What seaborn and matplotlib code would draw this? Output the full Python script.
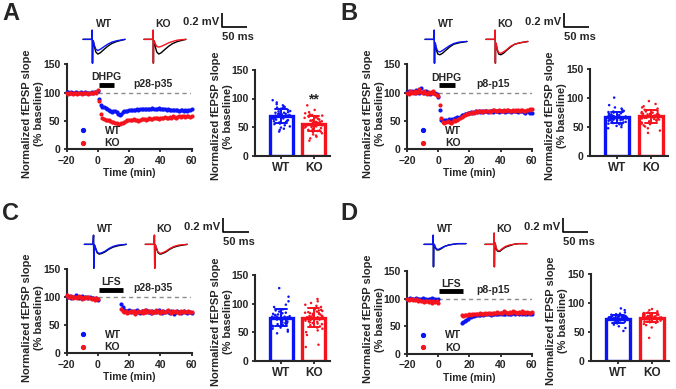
import matplotlib
matplotlib.use("Agg")
import matplotlib.pyplot as plt
from matplotlib.lines import Line2D
import seaborn as sns
import pandas as pd

sns.set_style("ticks")
plt.rcParams['font.family'] = ['Liberation Sans', 'DejaVu Sans']
plt.rcParams['font.weight'] = 'bold'
plt.rcParams['axes.labelweight'] = 'bold'

BLUE = '#0a14f5'
RED = '#f5141e'

# ---- time course data (% baseline), sampled every minute ----
t_full = list(range(-20, 61))
t_lfs = list(range(-20, 1)) + list(range(15, 61))

a_wt = [101, 102, 100, 101, 99, 100, 101, 100, 99, 101, 100, 100, 101, 100, 99, 100, 101, 100, 102, 101, 103,
        88, 78, 75, 74, 73, 72, 70, 67, 66, 67,
        68, 65, 62, 61, 63, 66, 67, 68, 67, 69,
        69, 70, 69, 70, 71, 70, 71, 72, 71, 72,
        71, 72, 71, 72, 73, 72, 71, 72, 73, 72,
        71, 72, 71, 70, 71, 70, 69, 70, 69, 70,
        69, 68, 69, 70, 68, 69, 68, 69, 70, 71]
a_ko = [99, 98, 100, 99, 97, 100, 99, 98, 100, 99, 98, 99, 100, 99, 98, 100, 99, 100, 101, 100, 105,
        85, 62, 55, 53, 52, 51, 52, 50, 49, 48,
        47, 46, 45, 44, 46, 47, 48, 50, 51, 52,
        51, 52, 53, 52, 51, 50, 52, 53, 54, 53,
        52, 53, 55, 54, 53, 55, 56, 55, 54, 55,
        56, 55, 57, 56, 55, 57, 56, 58, 57, 56,
        57, 58, 57, 59, 58, 57, 59, 58, 57, 58]

b_wt = [102, 104, 100, 103, 101, 99, 105, 103, 100, 108, 102, 99, 104, 101, 100, 98, 102, 100, 99, 97, 93,
        70, 52, 50, 51, 52, 50, 53, 52, 54, 53,
        55, 57, 56, 58, 60, 61, 62, 63, 64, 65,
        66, 65, 66, 67, 66, 67, 66, 67, 66, 68,
        67, 66, 68, 67, 66, 67, 68, 67, 66, 67,
        68, 67, 66, 67, 68, 67, 66, 67, 68, 67,
        66, 67, 68, 67, 66, 65, 67, 66, 65, 64]
b_ko = [100, 98, 103, 101, 99, 104, 100, 102, 106, 101, 99, 103, 100, 98, 101, 99, 100, 103, 98, 96, 95,
        78, 55, 48, 47, 49, 50, 48, 47, 49, 51,
        50, 52, 54, 55, 57, 59, 60, 62, 63, 64,
        65, 66, 65, 67, 66, 68, 67, 66, 68, 67,
        68, 67, 66, 68, 69, 70, 68, 67, 69, 68,
        67, 69, 68, 70, 69, 68, 67, 69, 68, 70,
        69, 68, 70, 69, 67, 68, 70, 69, 72, 71]

c_wt = [102, 100, 103, 99, 101, 100, 104, 101, 99, 100, 102, 98, 100, 101, 99, 100, 98, 99, 97, 99, 96,
        88, 82, 78, 76, 75, 77, 74, 76, 73, 75,
        77, 74, 72, 76, 75, 73, 78, 74, 75, 72,
        76, 74, 73, 75, 77, 74, 72, 75, 73, 76,
        74, 72, 75, 73, 71, 74, 76, 73, 72, 74,
        75, 73, 72, 74, 73, 72]
c_ko = [104, 101, 100, 102, 98, 100, 101, 99, 103, 100, 97, 99, 101, 98, 100, 99, 97, 98, 96, 98, 97,
        80, 76, 73, 75, 72, 74, 76, 73, 75, 71,
        74, 76, 73, 75, 72, 77, 74, 76, 73, 75,
        72, 74, 77, 73, 75, 72, 76, 74, 73, 75,
        78, 74, 72, 76, 73, 75, 74, 72, 76, 73,
        75, 74, 73, 76, 74, 73]

d_wt = [100, 99, 101, 100, 99, 100, 101, 99, 100, 100, 101, 99, 100, 98, 100, 99, 101, 100, 99, 98, 100,
        56, 58, 60, 62, 64, 66, 67, 68, 69, 70,
        70, 71, 71, 72, 71, 72, 72, 73, 72, 71,
        72, 73, 72, 73, 72, 74, 73, 72, 73, 74,
        73, 72, 73, 74, 73, 74, 75, 73, 74, 73,
        74, 72, 73, 74, 73, 72]
d_ko = [100, 98, 99, 100, 97, 98, 99, 96, 97, 95, 96, 94, 95, 96, 94, 95, 93, 95, 94, 96, 92,
        70, 69, 70, 71, 70, 72, 71, 72, 73, 72,
        73, 72, 74, 73, 72, 74, 73, 75, 74, 73,
        74, 75, 74, 76, 75, 74, 75, 77, 76, 75,
        74, 76, 75, 77, 76, 75, 74, 76, 75, 77,
        76, 75, 76, 74, 75, 76]

# ---- individual slices (% baseline) for the bar graphs ----
a_wt_pts = [97, 93, 90, 88, 86, 85, 84, 83, 82, 81, 80, 79, 78, 77, 76, 75, 75, 74, 73, 72, 72, 71, 70, 70, 69,
            68, 68, 67, 66, 65, 65, 64, 63, 62, 61, 60, 59, 58, 57, 56, 55, 53, 51, 49, 47, 45, 42, 71, 73, 69]
a_ko_pts = [88, 80, 76, 74, 72, 71, 70, 69, 68, 67, 66, 65, 64, 63, 62, 61, 61, 60, 59, 58, 58, 57, 56, 56, 55,
            54, 54, 53, 52, 51, 51, 50, 49, 48, 47, 46, 45, 44, 43, 42, 41, 39, 37, 35, 33, 30, 26, 57, 59, 55]
b_wt_pts = [101, 88, 84, 82, 80, 78, 77, 76, 75, 74, 73, 72, 71, 70, 70, 69, 68, 68, 67, 67, 66, 66, 65, 65, 64,
            64, 63, 63, 62, 62, 61, 60, 59, 58, 57, 56, 55, 54, 52, 50, 48, 66, 67, 65, 68, 64, 66, 63, 69, 62]
b_ko_pts = [95, 90, 86, 84, 82, 80, 79, 78, 77, 76, 75, 74, 73, 72, 72, 71, 70, 70, 69, 69, 68, 68, 67, 67, 66,
            65, 65, 64, 63, 62, 61, 60, 58, 56, 55, 53, 51, 48, 44, 40, 70, 71, 69, 72, 68, 73, 67, 74, 66, 75]
c_wt_pts = [127, 112, 104, 98, 94, 90, 88, 86, 84, 83, 82, 81, 80, 79, 78, 77, 77, 76, 75, 75, 74, 74, 73, 72, 72,
            71, 70, 69, 68, 67, 66, 65, 64, 63, 62, 61, 60, 58, 56, 54, 51, 48, 76, 75, 73, 77, 74, 72, 78, 70]
c_ko_pts = [108, 104, 101, 98, 96, 94, 92, 90, 89, 88, 87, 86, 85, 84, 83, 82, 81, 80, 79, 78, 78, 77, 76, 76, 75,
            74, 73, 72, 71, 70, 69, 68, 67, 66, 65, 64, 62, 60, 58, 56, 53, 50, 45, 28, 24, 80, 82, 79, 84, 77]
d_wt_pts = [91, 88, 84, 82, 81, 80, 79, 78, 78, 77, 77, 76, 76, 75, 75, 75, 74, 74, 74, 73, 73, 73, 72, 72, 72,
            71, 71, 70, 70, 69, 68, 67, 66, 65, 63, 60, 57, 52, 74, 75, 73, 76, 74, 72, 75, 73, 77, 71, 74, 76]
d_ko_pts = [90, 88, 86, 84, 83, 82, 81, 80, 80, 79, 79, 78, 78, 77, 77, 76, 76, 76, 75, 75, 75, 74, 74, 74, 73,
            73, 72, 72, 71, 70, 69, 68, 67, 66, 64, 62, 58, 40, 76, 77, 75, 78, 74, 79, 73, 80, 76, 75, 77, 74]

# ---- example fEPSP traces (ms, mV): baseline (black) vs after treatment (colour) ----
t_trace = [0, 17, 18, 18.5, 19, 20, 22, 25, 29, 34, 40, 48, 56, 66, 82]
a_tr = {'wt_base': [0, 0, 0.13, -0.34, -0.03, -0.02, -0.10, -0.18, -0.21, -0.19, -0.15, -0.10, -0.06, -0.03, 0.0],
        'wt_post': [0, 0, 0.13, -0.34, -0.03, -0.02, -0.08, -0.14, -0.16, -0.14, -0.11, -0.07, -0.04, -0.02, 0.0],
        'ko_base': [0, 0, 0.13, -0.34, -0.03, -0.02, -0.10, -0.18, -0.21, -0.19, -0.15, -0.10, -0.06, -0.03, 0.0],
        'ko_post': [0, 0, 0.13, -0.34, -0.03, -0.02, -0.06, -0.10, -0.11, -0.10, -0.08, -0.05, -0.03, -0.01, 0.0]}
b_tr = {'wt_base': [0, 0, 0.13, -0.34, -0.05, -0.06, -0.15, -0.21, -0.22, -0.20, -0.16, -0.11, -0.07, -0.05, -0.03],
        'wt_post': [0, 0, 0.13, -0.34, -0.05, -0.05, -0.12, -0.17, -0.18, -0.16, -0.13, -0.09, -0.06, -0.04, -0.03],
        'ko_base': [0, 0, 0.13, -0.34, -0.05, -0.06, -0.15, -0.21, -0.22, -0.20, -0.16, -0.11, -0.07, -0.05, -0.03],
        'ko_post': [0, 0, 0.13, -0.34, -0.05, -0.06, -0.14, -0.19, -0.20, -0.18, -0.15, -0.10, -0.07, -0.05, -0.03]}
c_tr = {'wt_base': [0, 0, 0.13, -0.34, -0.02, -0.01, -0.06, -0.12, -0.14, -0.13, -0.11, -0.07, -0.04, -0.02, 0.0],
        'wt_post': [0, 0, 0.13, -0.34, -0.02, -0.01, -0.05, -0.11, -0.13, -0.12, -0.10, -0.06, -0.03, -0.01, 0.0],
        'ko_base': [0, 0, 0.13, -0.34, -0.02, -0.01, -0.06, -0.12, -0.14, -0.13, -0.11, -0.07, -0.04, -0.02, 0.0],
        'ko_post': [0, 0, 0.13, -0.34, -0.02, -0.01, -0.05, -0.11, -0.13, -0.12, -0.10, -0.06, -0.03, -0.01, 0.0]}
d_tr = {'wt_base': [0, 0, 0.13, -0.32, -0.02, 0.0, -0.05, -0.08, -0.08, -0.06, -0.03, -0.01, 0.0, 0.01, 0.01],
        'wt_post': [0, 0, 0.13, -0.32, -0.02, 0.0, -0.04, -0.07, -0.07, -0.05, -0.03, -0.01, 0.0, 0.01, 0.01],
        'ko_base': [0, 0, 0.16, -0.32, -0.03, 0.02, -0.07, -0.10, -0.10, -0.07, -0.04, -0.02, 0.0, 0.01, 0.01],
        'ko_post': [0, 0, 0.16, -0.32, -0.03, 0.02, -0.05, -0.09, -0.09, -0.06, -0.03, -0.01, 0.0, 0.01, 0.01]}

dhpg_span = [0.5, 10.5]
lfs_span = [0.5, 16]

W, H = 676, 389
fig = plt.figure(figsize=(W / 100, H / 100), dpi=100)


def px_axes(left, top, right, bottom):
    return fig.add_axes([left / W, 1 - bottom / H, (right - left) / W, (bottom - top) / H])


def style(ax):
    sns.despine(ax=ax)
    for s in ['left', 'bottom']:
        ax.spines[s].set_linewidth(1.5)
    ax.tick_params(width=1.3, length=2.5, pad=2, labelsize=7.5)
    for lab in ax.get_xticklabels() + ax.get_yticklabels():
        lab.set_fontweight('bold')


def draw_course(ax, t_wt, wt, t_ko, ko, drug, span, age):
    ax.axhline(100, xmin=0.25, xmax=1, color='0.55', ls=(0, (3, 2.5)), lw=1)
    sns.scatterplot(x=t_wt, y=wt, color=BLUE, s=9, linewidth=0, ax=ax, clip_on=False, zorder=3)
    sns.scatterplot(x=t_ko, y=ko, color=RED, s=9, linewidth=0, ax=ax, clip_on=False, zorder=3)
    ax.plot(span, [113, 113], color='k', lw=3.5, solid_capstyle='butt')
    ax.text(sum(span) / 2, 127, drug, ha='center', va='center', fontsize=7.5, fontweight='bold')
    ax.text(35, 116, age, ha='center', va='center', fontsize=7.5, fontweight='bold')
    ax.set_xlim(-20, 60)
    ax.set_ylim(0, 150)
    ax.set_xticks([-20, 0, 20, 40, 60])
    ax.set_yticks([0, 50, 100, 150])
    ax.set_xlabel('Time (min)', fontsize=7.5, labelpad=2)
    ax.set_ylabel('Normalized fEPSP slope\n(% baseline)', fontsize=8, linespacing=1.25)
    ax.yaxis.set_label_coords(-0.18, 0.42)
    handles = [Line2D([], [], marker='o', ls='', color=BLUE, ms=2.8),
               Line2D([], [], marker='o', ls='', color=RED, ms=2.8)]
    ax.legend(handles, ['WT', 'KO'], loc='lower left', bbox_to_anchor=(0.08, 0.0), frameon=False,
              borderaxespad=0, borderpad=0.1, handlelength=1.0, handletextpad=1.6, labelspacing=0.25,
              prop={'size': 7.5, 'weight': 'bold'})
    style(ax)


def draw_bars(ax, wt_pts, ko_pts, star=None):
    df = pd.DataFrame({'geno': ['WT'] * len(wt_pts) + ['KO'] * len(ko_pts),
                       'val': wt_pts + ko_pts})
    pal = {'WT': BLUE, 'KO': RED}
    sns.barplot(data=df, x='geno', y='val', hue='geno', palette=pal, fill=False, width=0.7,
                linewidth=2.4, errorbar='sd', capsize=0.35, err_kws={'linewidth': 1.4},
                legend=False, ax=ax)
    sns.stripplot(data=df, x='geno', y='val', hue='geno', palette=pal, size=1.8, jitter=0.28,
                  legend=False, ax=ax, zorder=2)
    if star:
        ax.text(1, 98, star, ha='center', va='center', fontsize=10, fontweight='bold')
    ax.set_xlim(-0.8, 1.5)
    ax.set_ylim(0, 150)
    ax.set_yticks([0, 50, 100, 150])
    ax.set_xlabel('')
    ax.set_ylabel('Normalized fEPSP slope\n(% baseline)', fontsize=8, linespacing=1.25)
    ax.yaxis.set_label_coords(-0.29, 0.46)
    style(ax)
    ax.tick_params(axis='x', labelsize=8.5)


def draw_traces(ax, tr):
    ko_shift = 119
    sns.lineplot(x=t_trace, y=tr['wt_base'], color='k', lw=1.0, estimator=None, ax=ax)
    sns.lineplot(x=t_trace, y=tr['wt_post'], color=BLUE, lw=1.0, estimator=None, ax=ax)
    sns.lineplot(x=[t + ko_shift for t in t_trace], y=tr['ko_base'], color='k', lw=1.0, estimator=None, ax=ax)
    sns.lineplot(x=[t + ko_shift for t in t_trace], y=tr['ko_post'], color=RED, lw=1.0, estimator=None, ax=ax)
    ax.text(41, 0.22, 'WT', ha='center', va='center', fontsize=7.5, fontweight='bold')
    ax.text(156, 0.22, 'KO', ha='center', va='center', fontsize=7.5, fontweight='bold')
    # scale bar 50 ms / 0.2 mV
    ax.plot([271, 271, 321], [0.371, 0.171, 0.171], color='k', lw=1.2, solid_capstyle='butt')
    ax.text(266, 0.25, '0.2 mV', ha='right', va='center', fontsize=8, fontweight='bold')
    ax.text(271, 0.03, '50 ms', ha='left', va='center', fontsize=8, fontweight='bold')
    ax.set_xlim(-5.9, 336)
    ax.set_ylim(-0.38, 0.45)
    ax.axis('off')


def trace_axes(x0, y0):
    return px_axes(x0 - 3, y0 - 31.5, x0 + 172, y0 + 26.7)


panels = [
    ('A', (66.5, 64.3, 191.5, 149.3), (255, 70, 330, 155.5), (83, 39.3),
     t_full, a_wt, t_full, a_ko, 'DHPG', dhpg_span, 'p28-p35', a_wt_pts, a_ko_pts, a_tr, '**', (2, 2)),
    ('B', (407, 64.5, 531.7, 149.3), (590, 69.3, 668, 156), (425, 39.3),
     t_full, b_wt, t_full, b_ko, 'DHPG', dhpg_span, 'p8-p15', b_wt_pts, b_ko_pts, b_tr, None, (340, 2)),
    ('C', (66.5, 269.3, 191.5, 353.3), (255, 275, 330, 360.7), (84.3, 244.3),
     t_lfs, c_wt, t_lfs, c_ko, 'LFS', lfs_span, 'p28-p35', c_wt_pts, c_ko_pts, c_tr, None, (2, 202)),
    ('D', (407, 271, 531.7, 354), (591, 274.3, 669, 361), (424, 244.3),
     t_lfs, d_wt, t_lfs, d_ko, 'LFS', lfs_span, 'p8-p15', d_wt_pts, d_ko_pts, d_tr, None, (340, 202)),
]

for (letter, tc, bc, tr0, tw, yw, tk, yk, drug, span, age, pw, pk, tr, star, lpos) in panels:
    ax_t = px_axes(*tc)
    draw_course(ax_t, tw, yw, tk, yk, drug, span, age)
    ax_b = px_axes(*bc)
    draw_bars(ax_b, pw, pk, star)
    ax_tr = trace_axes(*tr0)
    draw_traces(ax_tr, tr)
    fig.text(lpos[0] / W, 1 - lpos[1] / H, letter, fontsize=17, fontweight='bold', va='top', ha='left')

fig.savefig('out.png', dpi=100)
